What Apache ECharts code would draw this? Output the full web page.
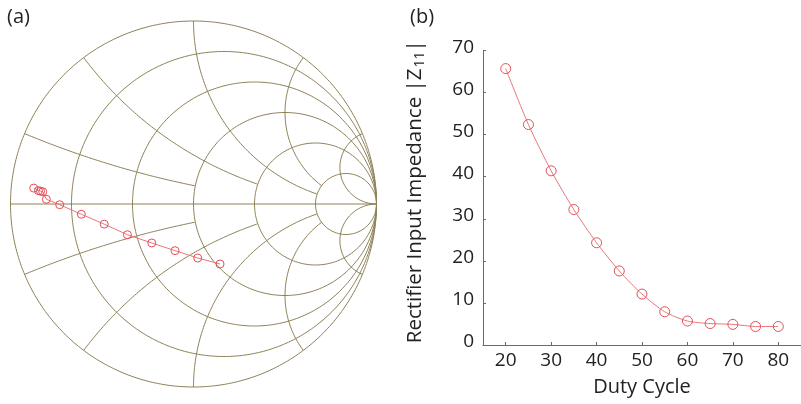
<!DOCTYPE html>
<html>
<head>
<meta charset="utf-8">
<script src="https://cdn.jsdelivr.net/npm/echarts@6/dist/echarts.min.js"></script>
<style>
  html, body { margin: 0; padding: 0; background: #fff; }
  #chart { width: 801px; height: 404px; }
</style>
</head>
<body>
<div id="chart"></div>
<script>
// (b) input impedance vs duty cycle
var dutyCycle = [20, 25, 30, 35, 40, 45, 50, 55, 60, 65, 70, 75, 80];
var impedance = [65.7, 52.4, 41.4, 32.2, 24.3, 17.6, 12.1, 7.9, 5.7, 5.1, 4.9, 4.4, 4.4];
var dutyTicks = [20, 30, 40, 50, 60, 70, 80];

// (a) same sweep on the smith chart, reflection coefficient (re / im)
var gammaRe = [0.145, 0.023, -0.101, -0.228, -0.361, -0.488, -0.613, -0.731, -0.804, -0.824, -0.836, -0.847, -0.873];
var gammaIm = [-0.328, -0.295, -0.255, -0.213, -0.168, -0.110, -0.056, -0.004, 0.026, 0.067, 0.070, 0.073, 0.087];

// smith grid values: resistance circles, reactance arcs and where each arc stops
var resistanceGrid = [0, 0.2, 0.5, 1, 2, 5];
var reactanceGrid = [0.2, 0.5, 1, 2, 5];
var arcEnd = [1, 2, 5, 5, Infinity];

var FONT = '"Open Sans", "DejaVu Sans", sans-serif';
var gridColor = '#8e8259';
var markColor = '#e2505a';
var lineColor = '#e7787c';

function gammaOf(r, x) {
  var d = (r + 1) * (r + 1) + x * x;
  return [(r * r - 1 + x * x) / d, (2 * x) / d];
}

function circlePts(r) {
  var c = r / (1 + r), rad = 1 / (1 + r), pts = [];
  for (var i = 0; i <= 360; i++) {
    var t = i * Math.PI / 180;
    pts.push([c + rad * Math.cos(t), rad * Math.sin(t)]);
  }
  return pts;
}

function arcPts(x, rEnd) {
  var pts = [];
  for (var i = 0; i <= 400; i++) {
    var u = i / 400;
    var r = isFinite(rEnd) ? rEnd * u : (u < 1 ? u / (1 - u) : 1e6);
    pts.push(gammaOf(r, x));
  }
  return pts;
}

function gridLine(data) {
  return {
    type: 'line', xAxisIndex: 0, yAxisIndex: 0, data: data,
    symbol: 'none', silent: true, clip: false, z: 1,
    lineStyle: { color: gridColor, width: 1 }
  };
}

var smithSeries = [];
resistanceGrid.forEach(function (r) { smithSeries.push(gridLine(circlePts(r))); });
smithSeries.push(gridLine([[-1, 0], [1, 0]]));
reactanceGrid.forEach(function (x, i) {
  smithSeries.push(gridLine(arcPts(x, arcEnd[i])));
  smithSeries.push(gridLine(arcPts(-x, arcEnd[i])));
});

var smithData = gammaRe.map(function (g, i) { return [g, gammaIm[i]]; });
var impData = dutyCycle.map(function (d, i) { return [d, impedance[i]]; });

var chart = echarts.init(document.getElementById('chart'));
chart.setOption({
  animation: false,
  backgroundColor: '#fff',
  title: [
    { text: '(a)', left: 7, top: 7, padding: 0,
      textStyle: { fontSize: 20, fontWeight: 'normal', color: '#222', fontFamily: FONT } },
    { text: '(b)', left: 410, top: 7, padding: 0,
      textStyle: { fontSize: 20, fontWeight: 'normal', color: '#222', fontFamily: FONT } }
  ],
  grid: [
    { left: 10.5, top: 21, width: 366, height: 366 },
    { left: 483, top: 50.5, width: 326, height: 294.5 }
  ],
  xAxis: [
    { gridIndex: 0, type: 'value', min: -1, max: 1, show: false },
    {
      gridIndex: 1, type: 'value', min: 15, max: 85,
      name: 'Duty Cycle', nameLocation: 'middle', nameGap: 32,
      nameTextStyle: { fontSize: 20, color: '#222', fontFamily: FONT },
      axisLine: { show: true, lineStyle: { color: '#6a6a6a', width: 1 } },
      axisTick: { show: true, inside: true, length: 3, customValues: dutyTicks, lineStyle: { color: '#6a6a6a' } },
      axisLabel: { customValues: dutyTicks, fontSize: 19, color: '#222', fontFamily: FONT, margin: 6 },
      splitLine: { show: false }
    }
  ],
  yAxis: [
    { gridIndex: 0, type: 'value', min: -1, max: 1, show: false },
    {
      gridIndex: 1, type: 'value', min: 0, max: 70, interval: 10,
      name: 'Rectifier Input Impedance |Z{sub|11}|', nameLocation: 'middle', nameRotate: 90, nameGap: 56,
      nameTextStyle: {
        fontSize: 20.5, color: '#222', fontFamily: FONT, padding: [0, 0, 0, 12],
        rich: { sub: { fontSize: 14, color: '#222', fontFamily: FONT, padding: [10, 0, 0, 1] } }
      },
      axisLine: { show: true, lineStyle: { color: '#6a6a6a', width: 1 } },
      axisTick: { show: true, inside: true, length: 3, lineStyle: { color: '#6a6a6a' } },
      axisLabel: {
        fontSize: 19, color: '#222', fontFamily: FONT, margin: 9,
        formatter: '{v|{value}}',
        rich: { v: { fontSize: 19, color: '#222', fontFamily: FONT, padding: [0, 0, 6, 0] } }
      },
      splitLine: { show: false }
    }
  ],
  series: smithSeries.concat([
    {
      type: 'line', xAxisIndex: 0, yAxisIndex: 0, data: smithData, z: 5,
      symbol: 'circle', symbolSize: 8, clip: false,
      itemStyle: { color: 'rgba(255,255,255,0)', borderColor: markColor, borderWidth: 1 },
      lineStyle: { color: lineColor, width: 1 }
    },
    {
      type: 'line', xAxisIndex: 1, yAxisIndex: 1, data: impData, z: 5,
      symbol: 'circle', symbolSize: 10, smooth: 0.25, clip: false,
      itemStyle: { color: 'rgba(255,255,255,0)', borderColor: markColor, borderWidth: 1 },
      lineStyle: { color: lineColor, width: 1 }
    }
  ])
});
</script>
</body>
</html>
